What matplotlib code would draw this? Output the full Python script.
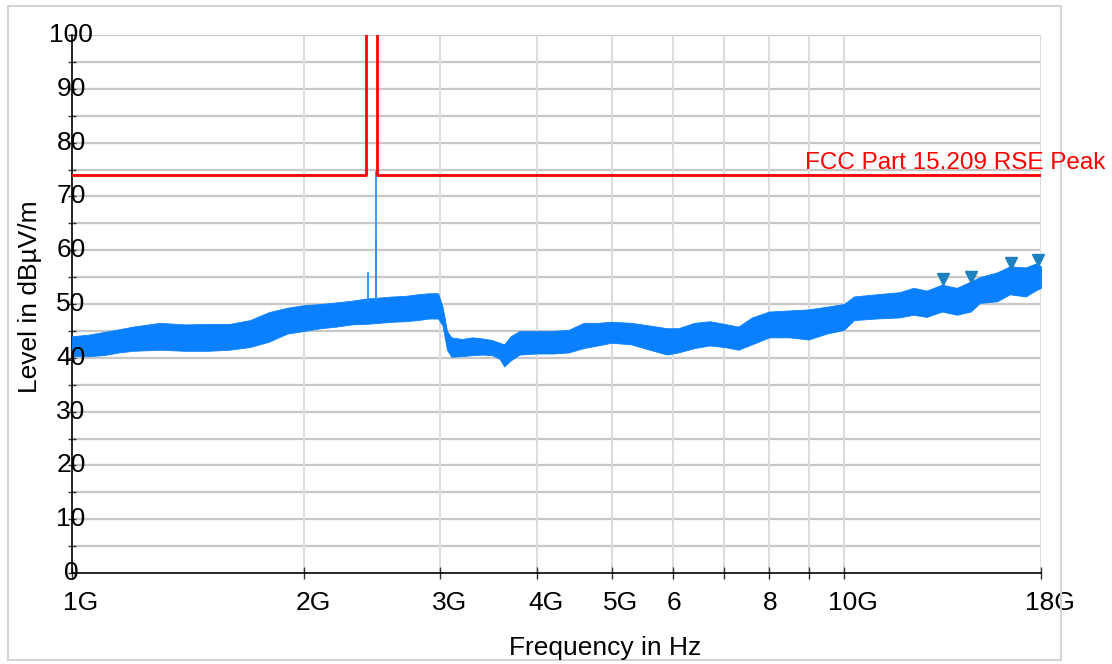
import numpy as np
import matplotlib
matplotlib.use("Agg")
import matplotlib.pyplot as plt
from matplotlib import transforms
from matplotlib.patches import Rectangle

plt.rcParams['font.family'] = ['Liberation Sans', 'DejaVu Sans']

# ---------------- data ----------------
# noise band of the measured trace: frequency (GHz), lower and upper envelope (dBuV/m)
band_freq = [1.00, 1.05, 1.10, 1.15, 1.20, 1.30, 1.40, 1.50, 1.60, 1.70, 1.80, 1.90,
             2.00, 2.10, 2.20, 2.30, 2.40, 2.50, 2.60, 2.70, 2.80, 2.90, 2.98, 3.02,
             3.06, 3.10, 3.20, 3.30, 3.40, 3.50, 3.58, 3.63, 3.70, 3.80, 4.00, 4.20,
             4.40, 4.60, 4.80, 5.00, 5.30, 5.60, 5.90, 6.10, 6.40, 6.70, 7.00, 7.30,
             7.60, 8.00, 8.50, 9.00, 9.50, 10.0, 10.3, 11.0, 11.8, 12.3, 12.8, 13.4,
             14.0, 14.6, 15.0, 15.8, 16.4, 17.2, 17.7, 18.0]
band_low = [40.3, 40.3, 40.5, 41.0, 41.3, 41.5, 41.3, 41.3, 41.5, 42.0, 43.0, 44.5,
            45.0, 45.5, 45.8, 46.2, 46.3, 46.5, 46.7, 46.8, 47.0, 47.3, 47.3, 46.0,
            41.5, 40.2, 40.3, 40.5, 40.6, 40.5, 39.8, 38.4, 39.5, 40.6, 40.8, 40.8,
            41.0, 41.8, 42.3, 42.8, 42.5, 41.5, 40.6, 41.0, 41.8, 42.3, 42.0, 41.5,
            42.5, 43.8, 43.8, 43.4, 44.5, 45.2, 47.0, 47.3, 47.5, 48.0, 47.6, 48.6,
            48.0, 48.6, 50.2, 50.5, 51.8, 51.4, 52.5, 53.0]
band_high = [44.0, 44.3, 44.8, 45.3, 45.8, 46.5, 46.2, 46.3, 46.3, 47.0, 48.5, 49.3,
             49.8, 50.0, 50.3, 50.6, 51.0, 51.2, 51.4, 51.5, 51.8, 52.0, 52.0, 49.5,
             45.0, 43.8, 43.5, 43.8, 43.6, 43.3, 42.8, 42.5, 44.0, 45.0, 45.0, 45.0,
             45.2, 46.5, 46.5, 46.7, 46.5, 46.0, 45.5, 45.5, 46.5, 46.8, 46.3, 45.8,
             47.5, 48.6, 48.8, 49.0, 49.5, 50.0, 51.4, 51.8, 52.2, 53.0, 52.5, 53.6,
             53.0, 54.2, 55.0, 55.9, 57.0, 56.8, 57.5, 57.0]

# narrow spikes in the trace
spike_freq = [2.42, 2.48, 2.48]
spike_base = [50.5, 50.8, 50.8]
spike_top = [55.7, 61.5, 74.5]

# peak markers
marker_freq = [13.45, 14.6, 16.45, 17.85]
marker_level = [54.7, 55.1, 57.7, 58.1]

# limit line: FCC Part 15.209 RSE Peak
limit_freq = [1.0, 2.4, 2.4, 2.4835, 2.4835, 18.0]
limit_level = [74, 74, 110, 110, 74, 74]
limit_name = "FCC Part 15.209 RSE Peak"

# axes
xtick_vals = [1, 2, 3, 4, 5, 6, 7, 8, 9, 10, 18]
xtick_labels = ['1G', '2G', '3G', '4G', '5G', '6', '', '8', '', '10G', '18G']
ytick_vals = [0, 10, 20, 30, 40, 50, 60, 70, 80, 90, 100]
ytick_minor = [5, 15, 25, 35, 45, 55, 65, 75, 85, 95]

# ---------------- figure ----------------
W, H = 1112, 664
fig = plt.figure(figsize=(W / 100, H / 100), dpi=100)
fig.patch.set_facecolor('white')

# outer light border
fig.patches.append(Rectangle((8 / W, 4 / H), (1061 - 8) / W, (658 - 4) / H,
                             transform=fig.transFigure, fill=False,
                             edgecolor='#d4d4d4', linewidth=1.5))

ax = fig.add_axes([72 / W, (H - 573) / H, (1041 - 72) / W, (573 - 35) / H])
ax.set_xscale('log')
ax.set_xlim(1, 18)
ax.set_ylim(0, 100)

for s in ['top', 'right']:
    ax.spines[s].set_visible(False)
ax.spines['left'].set_color('black')
ax.spines['bottom'].set_color('black')
ax.spines['left'].set_linewidth(1.2)
ax.spines['bottom'].set_linewidth(1.2)

# grid
for v in ytick_vals + ytick_minor:
    if v == 0:
        continue
    ax.axhline(v, color='#c8c8c8', lw=1.6, zorder=0)
for f in xtick_vals[1:]:
    ax.axvline(f, color='#dcdcdc', lw=1.4, zorder=0)

# ticks
ax.set_xticks(xtick_vals)
ax.set_xticks([], minor=True)
ax.set_xticklabels([])
ax.tick_params(axis='x', which='major', direction='inout', length=9, width=1, color='#333333')
ax.set_yticks(ytick_vals + ytick_minor)
ax.set_yticklabels([])
ax.tick_params(axis='y', which='major', direction='inout', length=6, width=1, color='#333333')

fs = 19
# x tick labels: number centred on tick, "G" appended
for f, lab in zip(xtick_vals, xtick_labels):
    if not lab:
        continue
    dx = 9 if lab.endswith('G') else 1
    tr = transforms.blended_transform_factory(ax.transData, ax.transAxes) + \
        transforms.ScaledTranslation(dx / 100, -30 / 100, fig.dpi_scale_trans)
    ax.text(f, 0, lab, transform=tr, ha='center', va='center', fontsize=fs, color='black')

# y tick labels centred on the axis line
for v in ytick_vals:
    tr = transforms.blended_transform_factory(ax.transAxes, ax.transData) + \
        transforms.ScaledTranslation(-1 / 100, 0, fig.dpi_scale_trans)
    ax.text(0, v, str(v), transform=tr, ha='center', va='center', fontsize=fs,
            color='black', zorder=5)

# trace
ax.fill_between(band_freq, band_low, band_high, color='#0a80ff', lw=0.6,
                edgecolor='#0a80ff', zorder=3)
for f, b, t in zip(spike_freq, spike_base, spike_top):
    ax.plot([f, f], [b, t], color='#2b8fff', lw=1.3, zorder=3)

# limit line
ax.plot(limit_freq, limit_level, color='#ff0000', lw=2, zorder=4, clip_on=True)
fig.text(1105 / W, (H - 169) / H, limit_name, color='#ff0000', fontsize=17.5,
         ha='right', va='baseline')

# markers
ax.plot(marker_freq, marker_level, linestyle='none', marker='v', markersize=9,
        color='#1f80c0', markeredgecolor='#1f80c0', zorder=6, clip_on=False)

# axis titles
fig.text(605 / W, (H - 648) / H, 'Frequency in Hz', ha='center', va='center', fontsize=fs)
fig.text(30 / W, (H - 297) / H, 'Level in dBµV/m', ha='center', va='center',
         rotation=90, fontsize=fs)

fig.savefig('out.png', dpi=100)
